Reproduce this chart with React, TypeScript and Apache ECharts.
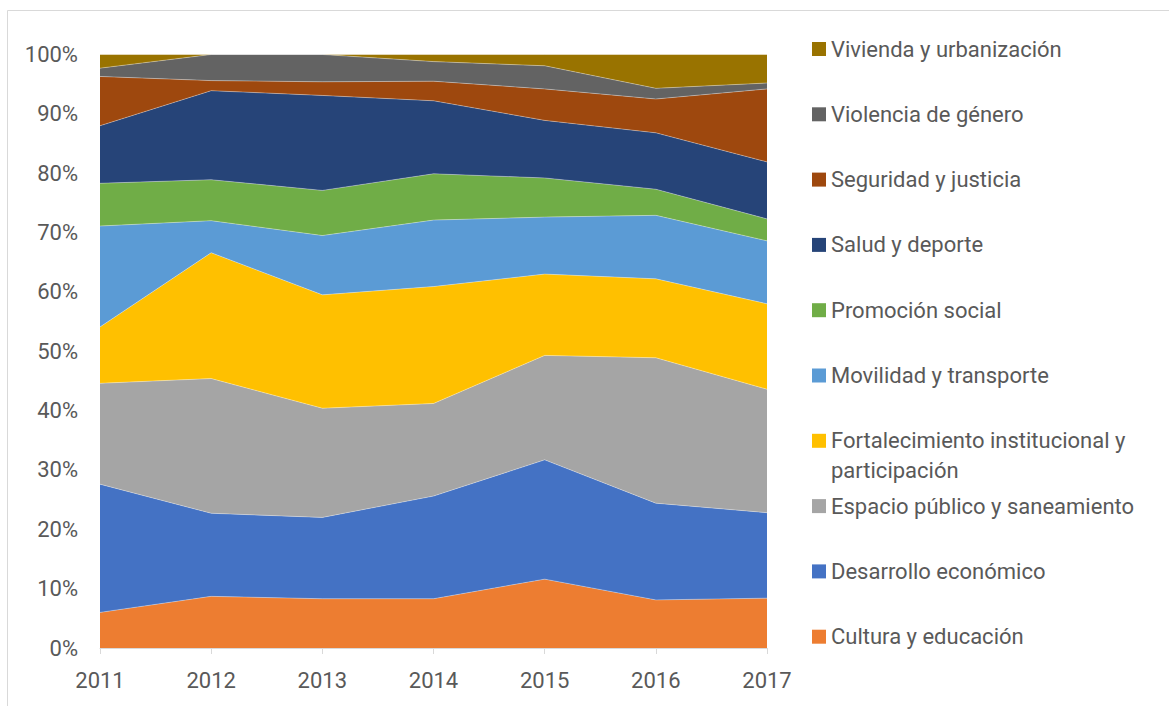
import React, { useEffect, useRef } from "react";
import * as echarts from "echarts";

const years = ["2011", "2012", "2013", "2014", "2015", "2016", "2017"];
const cultura = [6.0, 8.7, 8.3, 8.3, 11.6, 8.1, 8.4];
const desarrollo = [21.6, 14.0, 13.7, 17.3, 20.1, 16.3, 14.4];
const espacio = [17.0, 22.7, 18.4, 15.6, 17.6, 24.5, 20.8];
const fortalecimiento = [9.5, 21.2, 19.1, 19.7, 13.7, 13.3, 14.4];
const movilidad = [17.0, 5.4, 10.0, 11.2, 9.6, 10.7, 10.6];
const promocion = [7.2, 6.9, 7.6, 7.8, 6.6, 4.4, 3.7];
const salud = [9.7, 15.0, 16.0, 12.3, 9.7, 9.5, 9.6];
const seguridad = [8.3, 1.7, 2.3, 3.3, 5.3, 5.7, 12.3];
const violencia = [1.4, 4.4, 4.6, 3.3, 3.9, 1.8, 1.0];
const vivienda = [2.3, 0, 0, 1.2, 1.9, 5.7, 4.8];

const FORT = "Fortalecimiento institucional y participación";

const seriesDefs = [
  { name: "Cultura y educación", data: cultura, color: "#ED7D31" },
  { name: "Desarrollo económico", data: desarrollo, color: "#4472C4" },
  { name: "Espacio público y saneamiento", data: espacio, color: "#A5A5A5" },
  { name: FORT, data: fortalecimiento, color: "#FFC000" },
  { name: "Movilidad y transporte", data: movilidad, color: "#5B9BD5" },
  { name: "Promoción social", data: promocion, color: "#70AD47" },
  { name: "Salud y deporte", data: salud, color: "#264478" },
  { name: "Seguridad y justicia", data: seguridad, color: "#9E480E" },
  { name: "Violencia de género", data: violencia, color: "#636363" },
  { name: "Vivienda y urbanización", data: vivienda, color: "#997300" },
];

const FONT = "Roboto";
const TEXT_COLOR = "#595959";

export default function App() {
  const ref = useRef<HTMLDivElement>(null);

  useEffect(() => {
    if (!ref.current) return;
    const chart = echarts.init(ref.current, null, { renderer: "svg" });
    const option = {
      animation: false,
      textStyle: { fontFamily: FONT },
      graphic: [
        {
          type: "rect",
          shape: { x: 7.5, y: 10.5, width: 1300, height: 1000 },
          style: { fill: "none", stroke: "#d9d9d9", lineWidth: 1 },
          silent: true,
        },
      ],
      grid: { left: 100, right: 402, top: 54.5, bottom: 58, containLabel: false },
      xAxis: {
        type: "category",
        data: years,
        boundaryGap: false,
        axisLine: { show: true, lineStyle: { color: "#d9d9d9", width: 1 } },
        axisTick: { show: true, length: 6, lineStyle: { color: "#d9d9d9" } },
        axisLabel: { color: TEXT_COLOR, fontSize: 22, fontFamily: FONT, margin: 21 },
        splitLine: { show: false },
      },
      yAxis: {
        type: "value",
        min: 0,
        max: 100,
        interval: 10,
        axisLine: { show: false },
        axisTick: { show: false },
        splitLine: { show: false },
        axisLabel: {
          formatter: "{value}%",
          color: TEXT_COLOR,
          fontSize: 22,
          fontFamily: FONT,
          margin: 22,
        },
      },
      legend: {
        orient: "vertical",
        left: 812,
        top: 4,
        padding: 0,
        itemGap: -24.7,
        itemWidth: 14,
        itemHeight: 14,
        icon: "rect",
        selectedMode: false,
        itemStyle: { borderWidth: 0 },
        textStyle: { color: TEXT_COLOR, fontSize: 22, fontFamily: FONT, lineHeight: 30 },
        formatter: (name: string) =>
          name === FORT ? " \nFortalecimiento institucional y\nparticipación" : name,
        data: seriesDefs
          .slice()
          .reverse()
          .map((s) => ({
            name: s.name,
            itemStyle: { color: s.color, borderWidth: 0 },
            textStyle: { padding: s.name === FORT ? [0, 0, 0, 0] : [30, 0, 30, 0] },
          })),
      },
      series: seriesDefs.map((s) => ({
        name: s.name,
        type: "line",
        stack: "total",
        data: s.data,
        color: s.color,
        showSymbol: false,
        symbol: "none",
        lineStyle: { width: 0.75, color: "rgba(255,255,255,0.45)" },
        areaStyle: { color: s.color, opacity: 1 },
        itemStyle: { color: s.color },
        emphasis: { disabled: true },
      })),
    };
    chart.setOption(option as any);
    return () => chart.dispose();
  }, []);

  return (
    <div
      ref={ref}
      style={{ position: "fixed", left: 0, top: 0, width: 1169, height: 706, background: "#fff" }}
    />
  );
}
